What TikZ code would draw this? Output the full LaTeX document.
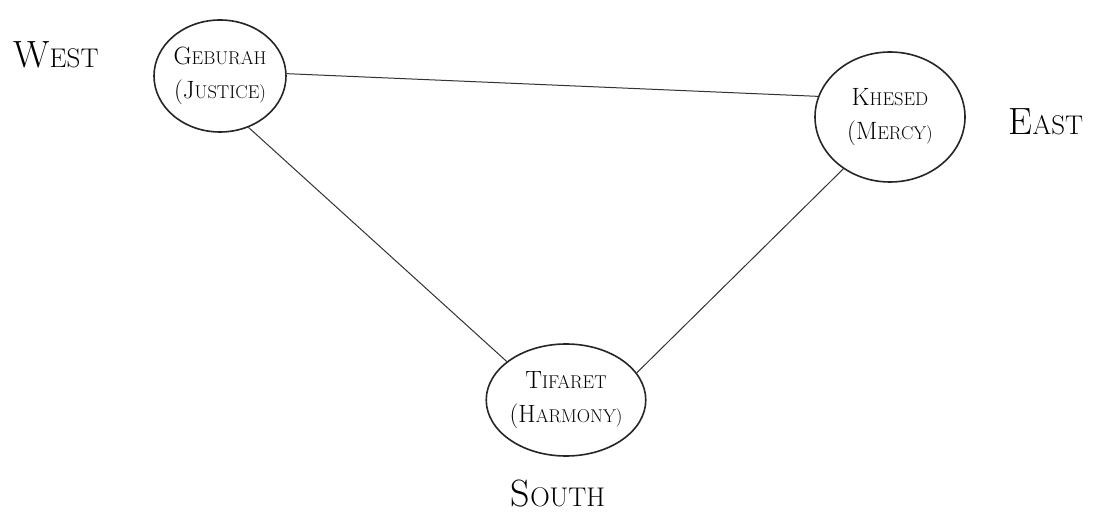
\documentclass[tikz,border=0pt]{standalone}
\usepackage{fontspec}
\usetikzlibrary{shapes.geometric}
\newcommand\capsA[2]{{\fontsize{25}{28}\selectfont #1}{\fontsize{18.5}{28}\selectfont #2}}
\newcommand\capsB[2]{{\fontsize{38}{42}\selectfont #1}{\fontsize{27}{42}\selectfont #2}}
\begin{document}
\begin{tikzpicture}[x=1pt,y=-1pt,
  sefira/.style={ellipse,draw=black!85,line width=1.6pt,minimum width=#1,align=center,inner sep=0pt,font=\fontsize{25}{34}\selectfont},
  link/.style={draw=black!80,line width=1pt},
  dir/.style={inner sep=1pt}]
\useasboundingbox[fill=white] (0,0) rectangle (1102,518);
\node[sefira=132pt,minimum height=112pt] (geb) at (220,76) {\capsA{G}{EBURAH}\\\capsA{(J}{USTICE)}};
\node[sefira=150pt,minimum height=130pt] (khe) at (890,117) {\capsA{K}{HESED}\\\capsA{(M}{ERCY)}};
\node[sefira=158pt,minimum height=112pt] (tif) at (566,400) {\capsA{T}{IFARET}\\\capsA{(H}{ARMONY)}};
\node[dir] (west) at (56,55) {\capsB{W}{EST}};
\node[dir] (east) at (1046,122) {\capsB{E}{AST}};
\node[dir] (south) at (558,494) {\capsB{S}{OUTH}};
\draw[link] (geb.2) -- (khe.164);
\draw[link] (geb.299) -- (tif.147);
\draw[link] (khe.228) -- (tif.21);
\end{tikzpicture}
\end{document}
